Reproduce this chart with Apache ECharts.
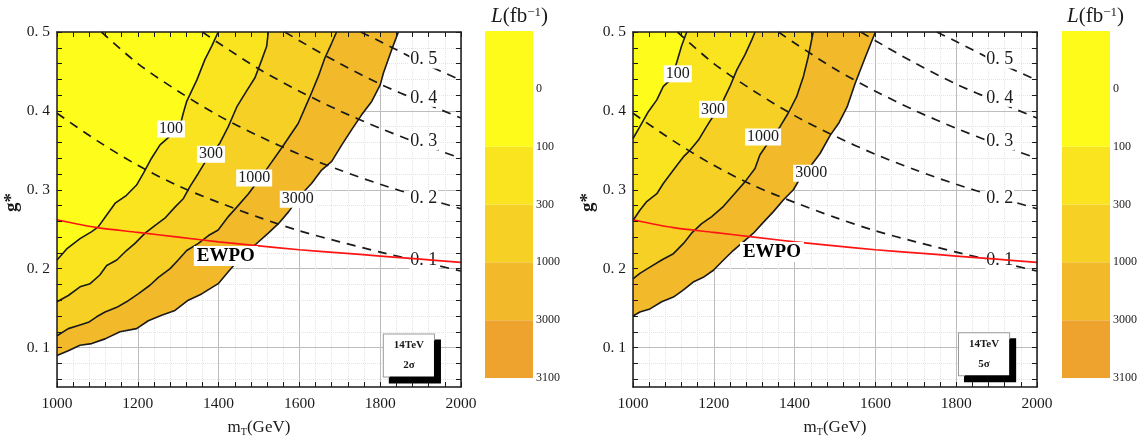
<!DOCTYPE html>
<html><head><meta charset="utf-8">
<script src="https://cdn.jsdelivr.net/npm/echarts@6/dist/echarts.min.js"></script>
<style>html,body{margin:0;padding:0;background:#fff}#c{width:1143px;height:442px}</style>
</head><body><div id="c"></div><script>
// ---------- axes / ticks ----------
const xMin = 1000, xMax = 2000, xStep = 200;
const yMin = 0.05, yMax = 0.5;
const yLabelValues = [0.1, 0.2, 0.3, 0.4, 0.5];
const yTickValues = [0.06,0.08,0.10,0.12,0.14,0.16,0.18,0.20,0.22,0.24,0.26,0.28,0.30,0.32,0.34,0.36,0.38,0.40,0.42,0.44,0.46,0.48,0.50];
const yMinorGridValues = [0.06,0.08,0.12,0.14,0.16,0.18,0.22,0.24,0.26,0.28,0.32,0.34,0.36,0.38,0.42,0.44,0.46,0.48];

// ---------- luminosity contours (fb^-1) ----------
const contourLevels = ['100', '300', '1000', '3000'];
// 2 sigma panel
const c2_100 = [[1000,0.211],[1024,0.225],[1057,0.238],[1086,0.247],[1102,0.253],[1123,0.268],[1144,0.283],[1172,0.293],[1197,0.306],[1214,0.321],[1234,0.340],[1255,0.357],[1284,0.370],[1304,0.380],[1313,0.398],[1321,0.412],[1346,0.439],[1366,0.465],[1383,0.482],[1399,0.500]];
const c2_300 = [[1000,0.158],[1028,0.166],[1057,0.177],[1082,0.181],[1106,0.192],[1123,0.204],[1148,0.211],[1172,0.223],[1193,0.232],[1218,0.245],[1243,0.255],[1267,0.264],[1292,0.278],[1313,0.289],[1329,0.304],[1350,0.321],[1370,0.338],[1403,0.359],[1424,0.380],[1445,0.405],[1469,0.425],[1490,0.442],[1507,0.465],[1519,0.482],[1523,0.500]];
const c2_1000 = [[1000,0.115],[1028,0.124],[1053,0.128],[1078,0.132],[1098,0.139],[1119,0.145],[1148,0.151],[1172,0.158],[1201,0.168],[1230,0.179],[1251,0.189],[1280,0.200],[1300,0.211],[1321,0.223],[1350,0.232],[1375,0.242],[1399,0.249],[1424,0.266],[1445,0.278],[1474,0.295],[1490,0.306],[1523,0.329],[1556,0.353],[1581,0.372],[1597,0.384],[1626,0.418],[1647,0.444],[1663,0.467],[1680,0.486],[1692,0.500]];
const c2_3000 = [[1000,0.090],[1028,0.096],[1057,0.103],[1086,0.105],[1119,0.111],[1156,0.120],[1197,0.124],[1226,0.134],[1259,0.141],[1292,0.147],[1325,0.160],[1358,0.168],[1399,0.181],[1424,0.196],[1449,0.211],[1474,0.225],[1490,0.230],[1523,0.245],[1548,0.257],[1573,0.272],[1606,0.295],[1630,0.308],[1655,0.325],[1680,0.336],[1705,0.357],[1729,0.376],[1754,0.395],[1779,0.412],[1800,0.433],[1808,0.448],[1828,0.477],[1845,0.500]];
// 5 sigma panel
const c5_100 = [[1000,0.365],[1017,0.380],[1038,0.399],[1059,0.414],[1075,0.431],[1092,0.439],[1108,0.461],[1120,0.482],[1133,0.500]];
const c5_300 = [[1000,0.261],[1017,0.274],[1034,0.285],[1059,0.295],[1075,0.308],[1100,0.325],[1125,0.342],[1141,0.350],[1162,0.363],[1182,0.380],[1203,0.397],[1224,0.414],[1240,0.431],[1257,0.452],[1277,0.471],[1294,0.490],[1302,0.500]];
const c5_1000 = [[1000,0.187],[1017,0.194],[1042,0.202],[1071,0.211],[1100,0.219],[1125,0.232],[1145,0.245],[1170,0.257],[1195,0.266],[1224,0.279],[1248,0.293],[1277,0.310],[1302,0.327],[1314,0.344],[1339,0.363],[1364,0.380],[1384,0.397],[1405,0.418],[1422,0.444],[1434,0.469],[1446,0.500]];
const c5_3000 = [[1000,0.140],[1017,0.145],[1042,0.149],[1071,0.158],[1100,0.164],[1125,0.173],[1149,0.183],[1174,0.189],[1199,0.198],[1224,0.211],[1248,0.223],[1273,0.234],[1298,0.245],[1323,0.259],[1347,0.272],[1372,0.287],[1397,0.300],[1413,0.314],[1438,0.329],[1463,0.346],[1488,0.369],[1510,0.385],[1530,0.405],[1550,0.435],[1575,0.468],[1600,0.500]];

// ---------- dashed coupling lines (0.1 ... 0.5) ----------
const dashedNames = ['0. 1', '0. 2', '0. 3', '0. 4', '0. 5'];
const d01 = [[1000,0.397],[1100,0.362],[1200,0.331],[1300,0.305],[1400,0.284],[1500,0.265],[1600,0.248],[1700,0.234],[1800,0.221],[1900,0.209],[2000,0.197]];
const d02 = [[1110,0.500],[1200,0.460],[1300,0.425],[1400,0.394],[1500,0.368],[1600,0.345],[1700,0.325],[1800,0.307],[1900,0.291],[2000,0.276]];
const d03 = [[1360,0.500],[1400,0.486],[1500,0.453],[1600,0.425],[1700,0.400],[1800,0.378],[1900,0.358],[2000,0.340]];
const d04 = [[1564,0.500],[1600,0.489],[1700,0.460],[1800,0.434],[1900,0.412],[2000,0.391]];
const d05 = [[1752,0.500],[1800,0.488],[1900,0.462],[2000,0.439]];

// ---------- EWPO bound ----------
const ewpo = [[1000,0.262],[1100,0.252],[1200,0.246],[1300,0.240],[1400,0.234],[1500,0.229],[1600,0.224],[1700,0.220],[1800,0.216],[1900,0.212],[2000,0.208]];

// ---------- annotation anchors (data coords) ----------
const contourLabelAt2 = [[1282,0.377],[1381,0.345],[1488,0.315],[1596,0.288]];
const contourLabelAt5 = [[1111,0.447],[1198,0.402],[1322,0.367],[1441,0.321]];
const dashedLabelAt = [[1908,0.211],[1908,0.289],[1908,0.361],[1908,0.4165],[1908,0.465]];
const ewpoLabelAt2 = [1418,0.216];
const ewpoLabelAt5 = [1344,0.221];
const insetAt2 = [1871,0.090];
const insetAt5 = [1869,0.0915];

// ---------- colour bar ----------
const cbLabels = ['3100', '3000', '1000', '300', '100', '0', ''];
const cbBands = [1, 1, 1, 1, 2];          // bottom to top
const cbColors = ['#EFA32F', '#F2B92A', '#F6D024', '#F9E41F', '#FEFB1B'];
const areaColors = ['#F2B92A', '#F6D024', '#F9E41F', '#FEFC1B']; // 3000,1000,300,100 regions

const SERIF = '"Liberation Serif","Times New Roman",serif';
const INK = '#1a1a1a';

const panels = [
  {left: 57, cb: 485, cbTitle: 486, contours: [c2_3000, c2_1000, c2_300, c2_100], labelAt: contourLabelAt2, ewpoAt: ewpoLabelAt2, insetAt: insetAt2, sigma: '2σ'},
  {left: 633, cb: 1062, cbTitle: 1062, contours: [c5_3000, c5_1000, c5_300, c5_100], labelAt: contourLabelAt5, ewpoAt: ewpoLabelAt5, insetAt: insetAt5, sigma: '5σ'}
];

const grid = [], xAxis = [], yAxis = [], series = [], title = [];
const frameLine = {show: true, onZero: false, lineStyle: {color: INK, width: 1.5}};
const tickStyle = {color: INK, width: 1};

panels.forEach((P, i) => {
  const g = grid.length;
  grid.push({left: P.left, top: 32, width: 404, height: 355});
  const xi = xAxis.length;
  xAxis.push(
    {type: 'value', gridIndex: g, min: xMin, max: xMax, interval: xStep, position: 'bottom', z: 10,
     axisLine: frameLine,
     axisTick: {show: true, inside: true, length: 5, lineStyle: tickStyle},
     minorTick: {show: true, splitNumber: 5, length: 5, lineStyle: tickStyle},
     axisLabel: {formatter: v => String(v), fontFamily: SERIF, fontSize: 15.5, color: INK, margin: 9},
     splitLine: {show: false},
     name: '{m|m}{s|T}{m|(GeV)}', nameLocation: 'middle', nameGap: 32,
     nameTextStyle: {rich: {m: {fontFamily: SERIF, fontSize: 17, color: INK}, s: {fontFamily: SERIF, fontSize: 10, color: INK, verticalAlign: 'bottom', padding: [8, 0, 0, 0]}}}},
    {type: 'value', gridIndex: g, min: xMin, max: xMax, interval: xStep, position: 'bottom', z: 0,
     axisLine: {show: false}, axisTick: {show: false}, axisLabel: {show: false},
     splitLine: {show: true, lineStyle: {color: '#bdbdbd', width: 1}},
     minorTick: {show: false, splitNumber: 5},
     minorSplitLine: {show: true, lineStyle: {color: '#e4e4e4', width: 1, type: 'dotted'}}},
    {type: 'value', gridIndex: g, min: xMin, max: xMax, interval: xStep, position: 'top', z: 10,
     axisLine: frameLine,
     axisTick: {show: true, inside: true, length: 5, lineStyle: tickStyle},
     minorTick: {show: true, splitNumber: 5, length: 5, lineStyle: tickStyle},
     axisLabel: {show: false}, splitLine: {show: false}}
  );
  const yi = yAxis.length;
  yAxis.push(
    {type: 'value', gridIndex: g, min: yMin, max: yMax, position: 'left', z: 10,
     axisLine: frameLine,
     axisTick: {show: true, inside: true, length: 5, lineStyle: tickStyle, customValues: yTickValues},
     axisLabel: {customValues: yLabelValues, formatter: v => v.toFixed(1).replace('.', '. '), fontFamily: SERIF, fontSize: 15.5, color: INK, margin: 7},
     splitLine: {show: false},
     name: 'g*', nameLocation: 'middle', nameGap: 35, nameRotate: 90,
     nameTextStyle: {fontFamily: SERIF, fontSize: 19, fontWeight: 'bold', color: INK, padding: [0, 0, 0, 14]}},
    {type: 'value', gridIndex: g, min: yMin, max: yMax, position: 'left', z: 0,
     axisLine: {show: false}, axisLabel: {show: false},
     axisTick: {show: false, customValues: yLabelValues},
     splitLine: {show: true, lineStyle: {color: '#bdbdbd', width: 1}}},
    {type: 'value', gridIndex: g, min: yMin, max: yMax, position: 'left', z: 0,
     axisLine: {show: false}, axisLabel: {show: false},
     axisTick: {show: false, customValues: yMinorGridValues},
     splitLine: {show: true, lineStyle: {color: '#e4e4e4', width: 1, type: 'dotted'}}},
    {type: 'value', gridIndex: g, min: yMin, max: yMax, position: 'right', z: 10,
     axisLine: frameLine,
     axisTick: {show: true, inside: true, length: 5, lineStyle: tickStyle, customValues: yTickValues},
     axisLabel: {show: false}, splitLine: {show: false}}
  );

  const hidden = {color: 'rgba(0,0,0,0)', opacity: 1};
  // filled contour regions with black contour lines
  P.contours.forEach((c, k) => {
    series.push({type: 'line', xAxisIndex: xi, yAxisIndex: yi, data: c, symbol: 'none', silent: true,
      lineStyle: {color: INK, width: 1.6},
      areaStyle: {color: areaColors[k], opacity: 1, origin: 'end'}, z: 2});
  });
  // dashed lines
  [d01, d02, d03, d04, d05].forEach(d => {
    series.push({type: 'line', xAxisIndex: xi, yAxisIndex: yi, data: d, symbol: 'none', smooth: 0.3, silent: true,
      lineStyle: {color: INK, width: 1.7, type: [9, 7]}, z: 3});
  });
  // dashed-line labels (under the red line)
  series.push({type: 'scatter', xAxisIndex: xi, yAxisIndex: yi, symbolSize: 1, itemStyle: hidden, silent: true, z: 3,
    data: dashedLabelAt.map((p, k) => ({value: p, label: {formatter: dashedNames[k]}})),
    label: {show: true, position: 'inside', fontFamily: SERIF, fontSize: 18, color: INK, backgroundColor: '#fff', padding: [0, 1, 0, 1]}});
  // EWPO
  series.push({type: 'line', xAxisIndex: xi, yAxisIndex: yi, data: ewpo, symbol: 'none', smooth: 0.3, silent: true,
    lineStyle: {color: '#ff1414', width: 1.7}, z: 4});

  // contour labels
  series.push({type: 'scatter', xAxisIndex: xi, yAxisIndex: yi, symbolSize: 1, itemStyle: hidden, silent: true, z: 6,
    data: P.labelAt.map((p, k) => ({value: p, label: {formatter: contourLevels[k]}})),
    label: {show: true, position: 'inside', fontFamily: SERIF, fontSize: 16, color: INK, backgroundColor: '#fff', padding: [1, 2, 0, 2]}});
  // EWPO label
  series.push({type: 'scatter', xAxisIndex: xi, yAxisIndex: yi, symbolSize: 1, itemStyle: hidden, silent: true, z: 6,
    data: [{value: P.ewpoAt, label: {formatter: 'EWPO'}}],
    label: {show: true, position: 'inside', fontFamily: SERIF, fontSize: 19, fontWeight: 'bold', color: '#000', backgroundColor: '#fff', padding: [1, 3, 0, 3]}});
  // inset box
  series.push({type: 'scatter', xAxisIndex: xi, yAxisIndex: yi, symbolSize: 1, itemStyle: hidden, silent: true, z: 6,
    data: [{value: P.insetAt, label: {formatter: '14TeV\n' + P.sigma}}],
    label: {show: true, position: 'inside', fontFamily: SERIF, fontSize: 11, fontWeight: 'bold', color: INK, lineHeight: 20,
      backgroundColor: '#fff', borderColor: '#9a9a9a', borderWidth: 1, padding: [1, 10, 1, 10],
      shadowColor: '#000', shadowBlur: 0, shadowOffsetX: 6, shadowOffsetY: 6}});

  // colour bar
  const cg = grid.length;
  grid.push({left: P.cb, top: 31, width: 48, height: 347});
  const cxi = xAxis.length;
  xAxis.push({type: 'category', gridIndex: cg, data: ['L'], show: false});
  const cyi = yAxis.length;
  yAxis.push({type: 'value', gridIndex: cg, min: 0, max: 6, interval: 1, position: 'right',
    axisLine: {show: false}, axisTick: {show: false}, splitLine: {show: false},
    axisLabel: {formatter: v => cbLabels[Math.round(v)], fontFamily: SERIF, fontSize: 12, color: INK, margin: 3}});
  cbBands.forEach((v, k) => {
    series.push({type: 'bar', xAxisIndex: cxi, yAxisIndex: cyi, stack: 'cb' + i, data: [v], barWidth: '100%', silent: true,
      itemStyle: {color: cbColors[k]}});
  });
  title.push({text: '{i|L}{n|(fb}{s|−1}{n|)}', left: P.cbTitle, top: 1,
    textStyle: {fontWeight: 'normal', rich: {
      i: {fontFamily: SERIF, fontSize: 21, fontStyle: 'italic', fontWeight: 'normal', color: INK},
      n: {fontFamily: SERIF, fontSize: 21, fontWeight: 'normal', color: INK},
      s: {fontFamily: SERIF, fontSize: 13, fontWeight: 'normal', color: INK, verticalAlign: 'top', padding: [0, 0, 8, 0]}}}});
});

const chart = echarts.init(document.getElementById('c'), null, {renderer: 'canvas'});
chart.setOption({animation: false, backgroundColor: '#fff', title, grid, xAxis, yAxis, series});
</script></body></html>
